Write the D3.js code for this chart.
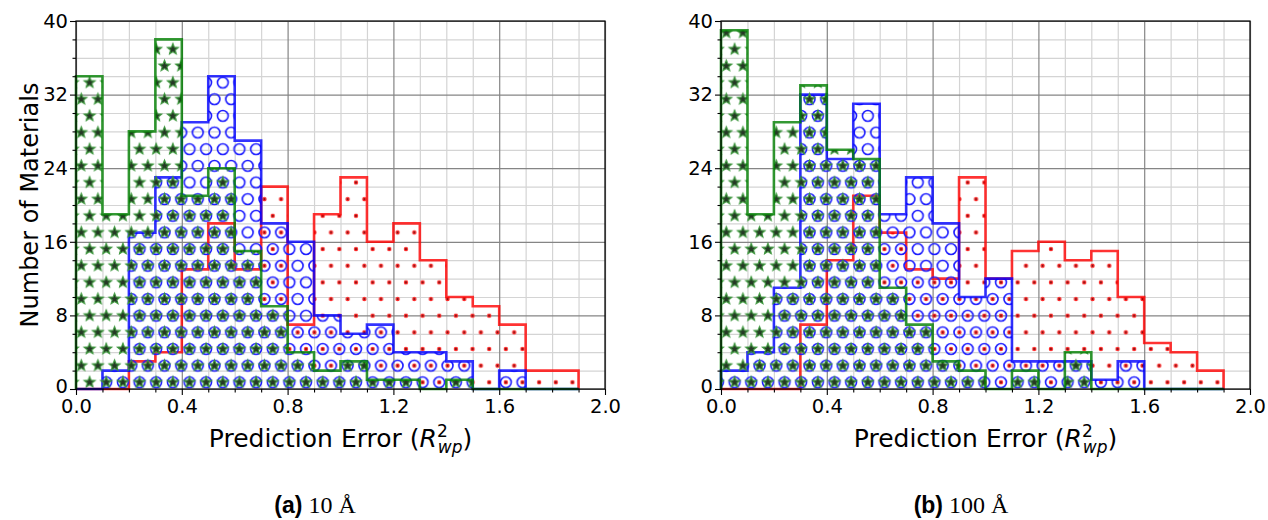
<!DOCTYPE html>
<html>
<head>
<meta charset="utf-8">
<script src="https://cdn.jsdelivr.net/npm/d3@7/dist/d3.min.js"></script>
<style>
body { margin:0; background:#fff; }
svg text { font-family:"DejaVu Sans", sans-serif; fill:#000; }
</style>
</head>
<body>
<svg id="chart" width="1268" height="520"></svg>
<script>

// left edges of the histogram bins (width 0.1)
var bins = [0.0, 0.1, 0.2, 0.3, 0.4, 0.5, 0.6, 0.7, 0.8, 0.9, 1.0, 1.1, 1.2, 1.3, 1.4, 1.5, 1.6, 1.7, 1.8];
var binWidth = 0.1;

// (a) 10 A
var a_green = [34, 19, 28, 38, 21, 24, 15, 9, 4, 2, 3, 1, 1, 0, 1, 0, 0, 0, 0];
var a_blue  = [0, 2, 17, 23, 29, 34, 27, 18, 16, 8, 6, 7, 4, 4, 3, 0, 2, 0, 0];
var a_red   = [0, 0, 3, 4, 13, 18, 13, 22, 7, 19, 23, 16, 18, 14, 10, 9, 7, 2, 2];

// (b) 100 A
var b_green = [39, 19, 29, 33, 26, 25, 11, 7, 3, 2, 0, 2, 0, 4, 0, 0, 0, 0, 0];
var b_blue  = [2, 4, 11, 32, 25, 31, 19, 23, 18, 10, 12, 3, 3, 3, 1, 3, 0, 0, 0];
var b_red   = [0, 0, 0, 7, 14, 21, 17, 13, 12, 23, 12, 15, 16, 14, 15, 10, 5, 4, 2];

// tick labels
var xTicks = [0.0, 0.4, 0.8, 1.2, 1.6, 2.0];
var yTicks = [0, 8, 16, 24, 32, 40];
var xMinor = [0.1, 0.2, 0.3, 0.5, 0.6, 0.7, 0.9, 1.0, 1.1, 1.3, 1.4, 1.5, 1.7, 1.8, 1.9];
var yMinor = [2, 4, 6, 10, 12, 14, 18, 20, 22, 26, 28, 30, 34, 36, 38];

var panels = [
	{ id: "a", left: 76,  label: "(a)", sub: " 10 \u00C5",  capX: 315, yLabel: true,
	  series: [ { name: "red", v: a_red }, { name: "blue", v: a_blue }, { name: "green", v: a_green } ] },
	{ id: "b", left: 721, label: "(b)", sub: " 100 \u00C5", capX: 961, yLabel: false,
	  series: [ { name: "red", v: b_red }, { name: "blue", v: b_blue }, { name: "green", v: b_green } ] }
];

var plotW = 529, plotTop = 21, plotBottom = 389;
var lineColor = { red: "#ff0000", blue: "#0000ff", green: "#008000" };

var svg = d3.select("#chart");
var defs = svg.append("defs");

// hatch spacing, shared grid for all three hatches
var S = 16.65;

function starPath(r1, r2) {
	var pts = d3.range(10).map(function(i) {
		var a = -Math.PI / 2 + i * Math.PI / 5;
		var r = (i % 2 == 0) ? r1 : r2;
		return [r * Math.cos(a), r * Math.sin(a)];
	});
	return "M" + pts.join("L") + "Z";
}

function makeHatch(id, kind, ox, oy) {
	var pat = defs.append("pattern")
		.attr("id", id)
		.attr("patternUnits", "userSpaceOnUse")
		.attr("x", ox).attr("y", oy)
		.attr("width", S).attr("height", 2 * S);
	var base = [[0, 0], [S / 2, S]];
	var pos = [];
	base.forEach(function(b) {
		[-S, 0, S].forEach(function(dx) {
			[-2 * S, 0, 2 * S].forEach(function(dy) { pos.push([b[0] + dx, b[1] + dy]); });
		});
	});
	var sel = pat.selectAll(".s").data(pos).enter();
	if (kind == "green") {
		sel.append("path")
			.attr("d", starPath(5.8, 2.5))
			.attr("transform", function(d) { return "translate(" + d[0] + "," + d[1] + ")"; })
			.attr("fill", "#253825").attr("stroke", "#3a963a").attr("stroke-width", 1.1);
	} else if (kind == "blue") {
		sel.append("circle")
			.attr("cx", function(d) { return d[0]; }).attr("cy", function(d) { return d[1]; })
			.attr("r", 5.4).attr("fill", "none").attr("stroke", "#1a1aff").attr("stroke-width", 1.6);
	} else {
		sel.append("circle")
			.attr("cx", function(d) { return d[0]; }).attr("cy", function(d) { return d[1]; })
			.attr("r", 1.6).attr("fill", "#701010").attr("stroke", "#ff2a2a").attr("stroke-width", 1.2);
	}
}

function styleGrid(color) {
	return function(s) {
		s.select(".domain").remove();
		s.selectAll("line").attr("stroke", color).attr("stroke-width", 1.2);
	};
}

function drawPanel(p) {
	var x = d3.scaleLinear().domain([0, 2]).range([p.left, p.left + plotW]);
	var y = d3.scaleLinear().domain([0, 40]).range([plotBottom, plotTop]);
	var h = plotBottom - plotTop;
	var g = svg.append("g");

	// grid, minor first then major
	g.append("g").attr("transform", "translate(0," + plotBottom + ")")
		.call(d3.axisBottom(x).tickValues(xMinor).tickSize(-h).tickFormat(""))
		.call(styleGrid("#d4d4d4"));
	g.append("g").attr("transform", "translate(" + p.left + ",0)")
		.call(d3.axisLeft(y).tickValues(yMinor).tickSize(-plotW).tickFormat(""))
		.call(styleGrid("#d4d4d4"));
	g.append("g").attr("transform", "translate(0," + plotBottom + ")")
		.call(d3.axisBottom(x).tickValues(xTicks).tickSize(-h).tickFormat(""))
		.call(styleGrid("#858585"));
	g.append("g").attr("transform", "translate(" + p.left + ",0)")
		.call(d3.axisLeft(y).tickValues(yTicks).tickSize(-plotW).tickFormat(""))
		.call(styleGrid("#858585"));

	// histograms: hatch fill first, then step outline
	p.series.forEach(function(sr) {
		var hid = "hatch-" + p.id + "-" + sr.name;
		makeHatch(hid, sr.name, p.left + 13.6, plotBottom - 6.7);

		var pts = [[x(bins[0]), y(0)]];
		bins.forEach(function(b, i) {
			pts.push([x(b), y(sr.v[i])]);
			pts.push([x(b + binWidth), y(sr.v[i])]);
		});
		pts.push([x(bins[bins.length - 1] + binWidth), y(0)]);

		g.append("path")
			.attr("d", d3.line()(pts) + "Z")
			.attr("fill", "url(#" + hid + ")")
			.attr("stroke", "none");
		g.append("path")
			.attr("d", d3.line()(pts))
			.attr("fill", "none")
			.attr("stroke", lineColor[sr.name])
			.attr("stroke-opacity", 0.8)
			.attr("stroke-width", 2.6);
	});

	// frame
	g.append("rect")
		.attr("x", p.left).attr("y", plotTop)
		.attr("width", plotW).attr("height", h)
		.attr("fill", "none").attr("stroke", "#000").attr("stroke-width", 1.2);

	// ticks + labels
	var xa = g.append("g").attr("transform", "translate(0," + plotBottom + ")")
		.call(d3.axisBottom(x).tickValues(xTicks).tickSize(6).tickPadding(4).tickFormat(d3.format(".1f")));
	var xm = g.append("g").attr("transform", "translate(0," + plotBottom + ")")
		.call(d3.axisBottom(x).tickValues(xMinor).tickSize(3.5).tickFormat(""));
	var ya = g.append("g").attr("transform", "translate(" + p.left + ",0)")
		.call(d3.axisLeft(y).tickValues(yTicks).tickSize(6).tickPadding(2).tickFormat(d3.format("d")));
	var ym = g.append("g").attr("transform", "translate(" + p.left + ",0)")
		.call(d3.axisLeft(y).tickValues(yMinor).tickSize(3.5).tickFormat(""));
	[xa, xm, ya, ym].forEach(function(a) {
		a.select(".domain").remove();
		a.selectAll("line").attr("stroke", "#000").attr("stroke-width", 1.1);
		a.selectAll("text").attr("font-family", "DejaVu Sans").attr("font-size", 19.5).attr("fill", "#000");
	});
	// nudge the bottom "0" up a little so it does not sit on "0.0"
	ya.selectAll("text").filter(function(d) { return d == 0; }).attr("dy", "0.2em");

	// x label with R^2_wp
	var cx = (x(0) + x(2)) / 2;
	var t = g.append("text").attr("x", cx).attr("y", 447).attr("text-anchor", "middle").attr("font-size", 25);
	t.append("tspan").text("Prediction Error (");
	t.append("tspan").attr("font-style", "italic").text("R");
	t.append("tspan").attr("font-size", 17).attr("dy", -10).text("2");
	t.append("tspan").attr("font-size", 17).attr("font-style", "italic").attr("dx", -10).attr("dy", 16).text("wp");
	t.append("tspan").attr("dy", -6).text(")");

	if (p.yLabel) {
		g.append("text")
			.attr("transform", "translate(30," + ((plotTop + plotBottom) / 2) + ") rotate(-90)")
			.attr("text-anchor", "middle").attr("dominant-baseline", "central")
			.attr("font-size", 24)
			.text("Number of Materials");
	}

	// caption
	var c = g.append("text").attr("x", p.capX).attr("y", 513).attr("text-anchor", "middle");
	c.append("tspan").attr("font-family", "Liberation Sans").attr("font-weight", "bold").attr("font-size", 23).text(p.label);
	c.append("tspan").attr("font-family", "Liberation Serif").attr("font-size", 24).text(p.sub);
}

panels.forEach(drawPanel);

</script>
</body>
</html>
